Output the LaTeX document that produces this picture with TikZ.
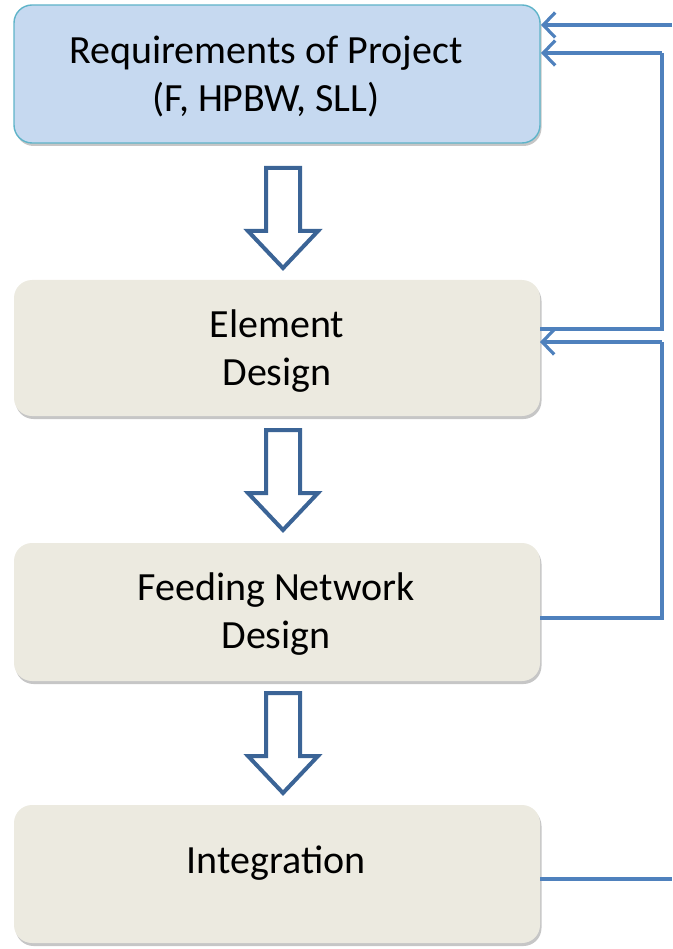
\documentclass[tikz,border=0pt]{standalone}
\usepackage{fontspec}
\setmainfont{Carlito}
\usetikzlibrary{shadows,arrows.meta}
\definecolor{reqfill}{HTML}{C6D9F0}
\definecolor{reqedge}{HTML}{5FB4C9}
\definecolor{stepfill}{HTML}{ECEAE0}
\definecolor{linkblue}{HTML}{4F81BD}
\definecolor{arrowedge}{HTML}{3B6496}
\tikzset{
  stagebox/.style={rounded corners=18pt, fill=stepfill,
    drop shadow={opacity=0.45, shadow xshift=1.5pt, shadow yshift=-3pt}},
  reqbox/.style={stagebox, fill=reqfill, draw=reqedge, line width=1.4pt},
  label/.style={font=\fontsize{40}{48}\selectfont, align=center, text=black},
  link/.style={draw=linkblue, line width=3.4pt},
  linkarrow/.style={link, -{Straight Barb[length=12pt,width=25pt,line width=3.2pt]}},
  blockarrow/.style={draw=arrowedge, fill=white, line width=4pt, line join=miter},
}
\newcommand{\downarrowshape}[3]{% centre x, top y, tip y
  \pgfmathsetmacro{\hs}{#3-37}
  \draw[blockarrow] (#1-17,#2) -- (#1+17,#2) -- (#1+17,\hs) -- (#1+35,\hs)
    -- (#1,#3) -- (#1-35,\hs) -- (#1-17,\hs) -- cycle;}
\begin{document}
\begin{tikzpicture}[x=1pt,y=-1pt]
\useasboundingbox (0,0) rectangle (672,949);

% stage boxes
\path[reqbox]   (14,5)   rectangle (540,143);
\path[stagebox] (14,280) rectangle (540,416);
\path[stagebox] (14,543) rectangle (540,681);
\path[stagebox] (14,805) rectangle (540,943);

\coordinate (req) at (541,74);
\coordinate (elem) at (540,348);
\coordinate (feed) at (540,612);
\coordinate (integ) at (540,874);

\node[label] (reqtxt)   at (266,77)  {Requirements of Project\\(F, HPBW, SLL)};
\node[label] (elemtxt)  at (277,351) {Element\\Design};
\node[label] (feedtxt)  at (276,614) {Feeding Network\\Design};
\node[label] (integtxt) at (276,863) {Integration};

% flow arrows between stages
\downarrowshape{283}{168}{268}
\downarrowshape{283}{430}{530}
\downarrowshape{283}{693}{793}

% feedback connectors
\coordinate (topin)  at (672,25);
\coordinate (botout) at (672,879);
\coordinate (railA)  at (662,53);
\coordinate (railB)  at (662,342);

\draw[linkarrow] (topin) -- (req |- topin);
\draw[link] (elem |- 0,329) -- (railA |- 0,329) -- (railA);
\draw[linkarrow] (railA) -- (req |- railA);
\draw[link] (feed |- 0,618) -- (railB |- 0,618) -- (railB);
\draw[linkarrow] (railB) -- (elem |- railB);
\draw[link] (integ |- botout) -- (botout);
\end{tikzpicture}
\end{document}
